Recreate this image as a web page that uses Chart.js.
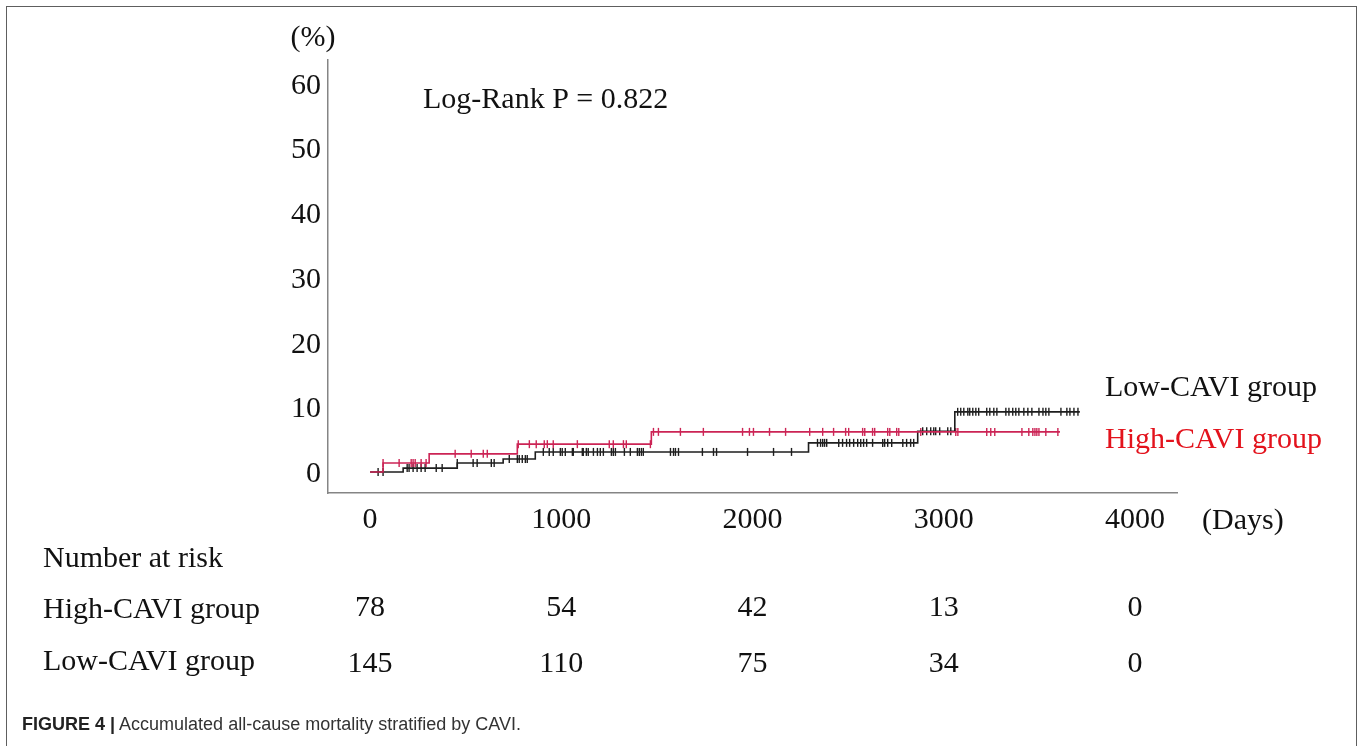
<!DOCTYPE html>
<html>
<head>
<meta charset="utf-8">
<script src="https://cdn.jsdelivr.net/npm/chart.js@4.4.1/dist/chart.umd.min.js"></script>
<style>
  html, body { margin: 0; padding: 0; background: #fff; }
  #fig { position: relative; width: 1360px; height: 746px; overflow: hidden; background: #fff; }
  #frame { position: absolute; left: 6px; top: 6px; width: 1351px; height: 780px;
           border: 1.5px solid #5e5e5e; box-sizing: border-box; }
  #c { position: absolute; left: 0; top: 0; }
  #caption { position: absolute; left: 22px; top: 714px; font-family: "Liberation Sans", Arial, sans-serif;
             font-size: 18px; color: #333; white-space: nowrap; transform-origin: left top; }
  #caption b { color: #222; }
</style>
</head>
<body>
<div id="fig">
  <div id="frame"></div>
  <canvas id="c" width="1360" height="746"></canvas>
  <div id="caption"><b>FIGURE 4 |</b> Accumulated all-cause mortality stratified by CAVI.</div>
</div>
<script>
// Group names
const groups = ['High-CAVI group', 'Low-CAVI group'];

// Kaplan–Meier steps: day of each event and cumulative mortality (%) after it
const highStepDays = [0, 68, 309, 770, 1471, 3608];
const highStepPct  = [0, 1.4, 2.8, 4.3, 6.2, 6.2];
const lowStepDays  = [0, 173, 456, 696, 864, 2293, 2864, 3058, 3712];
const lowStepPct   = [0, 0.6, 1.4, 2.0, 3.1, 4.5, 6.3, 9.3, 9.3];

// Censoring times (days)
const highCensorDays = [68, 152, 215, 225, 236, 267, 293, 445, 529, 592, 613, 775, 833, 869, 911, 927,
  958, 1084, 1251, 1272, 1325, 1340, 1466, 1482, 1508, 1623, 1743, 1948, 1984, 2005, 2089, 2173, 2299,
  2367, 2424, 2487, 2503, 2576, 2587, 2628, 2639, 2707, 2718, 2754, 2765, 2880, 3063, 3074, 3225, 3246,
  3267, 3409, 3445, 3466, 3477, 3487, 3498, 3534, 3597];
const lowCensorDays = [42, 68, 194, 204, 225, 246, 267, 288, 346, 377, 456, 539, 560, 634, 649, 728, 770,
  780, 796, 812, 822, 906, 937, 958, 995, 1005, 1021, 1058, 1063, 1110, 1115, 1131, 1141, 1168, 1189,
  1204, 1220, 1262, 1272, 1283, 1330, 1361, 1398, 1408, 1419, 1429, 1571, 1587, 1597, 1613, 1738, 1796,
  1812, 1974, 2110, 2204, 2340, 2356, 2367, 2377, 2388, 2451, 2471, 2492, 2508, 2529, 2550, 2566, 2581,
  2597, 2628, 2681, 2691, 2707, 2728, 2786, 2806, 2827, 2843, 2890, 2911, 2932, 2948, 2958, 2979, 3021,
  3037, 3073, 3089, 3105, 3126, 3136, 3152, 3168, 3183, 3225, 3241, 3262, 3278, 3325, 3341, 3361, 3377,
  3393, 3419, 3440, 3461, 3498, 3519, 3534, 3550, 3613, 3644, 3660, 3681, 3702];

// Axis ticks
const xTicks = [0, 1000, 2000, 3000, 4000];
const yTicks = [0, 10, 20, 30, 40, 50, 60];

// Number-at-risk table
const riskDays   = [0, 1000, 2000, 3000, 4000];
const highAtRisk = [78, 54, 42, 13, 0];
const lowAtRisk  = [145, 110, 75, 34, 0];

const logRankP = 0.822;

const HIGH_COLOR = '#cc2455';
const LOW_COLOR = '#1e1e1e';
const SERIF = '"Liberation Serif", "Times New Roman", serif';
const FONT_SIZE = 30;

// Step function value at a given day
function stepValue(days, pct, t) {
  let v = pct[0];
  for (let i = 0; i < days.length; i++) { if (days[i] <= t) v = pct[i]; }
  return v;
}
const toPoints = (days, pct) => days.map((d, i) => ({ x: d, y: pct[i] }));
const censorPoints = (cens, days, pct) => cens.map(t => ({ x: t, y: stepValue(days, pct, t) }));

const annotations = {
  id: 'annotations',
  afterDraw(chart) {
    const { ctx } = chart;
    const x = chart.scales.x;
    ctx.save();
    ctx.font = FONT_SIZE + 'px ' + SERIF;
    ctx.fillStyle = '#111';
    ctx.textBaseline = 'middle';

    ctx.textAlign = 'center';
    ctx.fillText('(%)', 313, 38);

    ctx.textAlign = 'left';
    ctx.fillText('Log-Rank P = ' + logRankP.toFixed(3), 423, 100);
    ctx.fillText('(Days)', 1202, 521);
    ctx.fillText(groups[1], 1105, 388);
    ctx.fillStyle = '#e3121c';
    ctx.fillText(groups[0], 1105, 440);

    ctx.fillStyle = '#111';
    ctx.fillText('Number at risk', 43, 559);
    ctx.fillText(groups[0], 43, 610);
    ctx.fillText(groups[1], 43, 662);

    ctx.textAlign = 'center';
    riskDays.forEach((d, i) => {
      const px = x.getPixelForValue(d);
      ctx.fillText(String(highAtRisk[i]), px, 608);
      ctx.fillText(String(lowAtRisk[i]), px, 664);
    });
    ctx.restore();
  }
};

new Chart(document.getElementById('c'), {
  type: 'line',
  data: {
    datasets: [
      { label: groups[0], data: toPoints(highStepDays, highStepPct), stepped: 'before',
        borderColor: HIGH_COLOR, borderWidth: 1.6, pointRadius: 0, fill: false },
      { label: groups[1], data: toPoints(lowStepDays, lowStepPct), stepped: 'before',
        borderColor: LOW_COLOR, borderWidth: 1.6, pointRadius: 0, fill: false },
      { label: groups[0] + ' censored', data: censorPoints(highCensorDays, highStepDays, highStepPct),
        showLine: false, pointStyle: 'line', rotation: 90, pointRadius: 4,
        pointBorderColor: HIGH_COLOR, pointBorderWidth: 1.4, borderColor: HIGH_COLOR },
      { label: groups[1] + ' censored', data: censorPoints(lowCensorDays, lowStepDays, lowStepPct),
        showLine: false, pointStyle: 'line', rotation: 90, pointRadius: 4,
        pointBorderColor: LOW_COLOR, pointBorderWidth: 1.4, borderColor: LOW_COLOR }
    ]
  },
  options: {
    responsive: false,
    animation: false,
    devicePixelRatio: 1,
    layout: { padding: { left: 228, top: 60, right: 183, bottom: 203 } },
    plugins: { legend: { display: false }, tooltip: { enabled: false } },
    elements: { line: { tension: 0 } },
    scales: {
      x: {
        type: 'linear', min: -220, max: 4220,
        afterBuildTicks: s => { s.ticks = xTicks.map(v => ({ value: v })); },
        afterFit: s => { s.height = 50; },
        grid: { display: false, drawTicks: false, tickLength: 0 },
        border: { display: true, color: '#858585', width: 1.5 },
        ticks: { color: '#111', font: { family: SERIF, size: FONT_SIZE }, padding: 9,
                 maxRotation: 0, autoSkip: false, callback: v => String(v) }
      },
      y: {
        type: 'linear', min: -3.25, max: 63.7,
        afterBuildTicks: s => { s.ticks = yTicks.map(v => ({ value: v })); },
        afterFit: s => { s.width = 100; },
        grid: { display: false, drawTicks: false, tickLength: 0 },
        border: { display: true, color: '#858585', width: 1.5 },
        ticks: { color: '#111', font: { family: SERIF, size: FONT_SIZE }, padding: 7, labelOffset: 2,
                 autoSkip: false, callback: v => String(v) }
      }
    }
  },
  plugins: [annotations]
});
</script>
</body>
</html>
